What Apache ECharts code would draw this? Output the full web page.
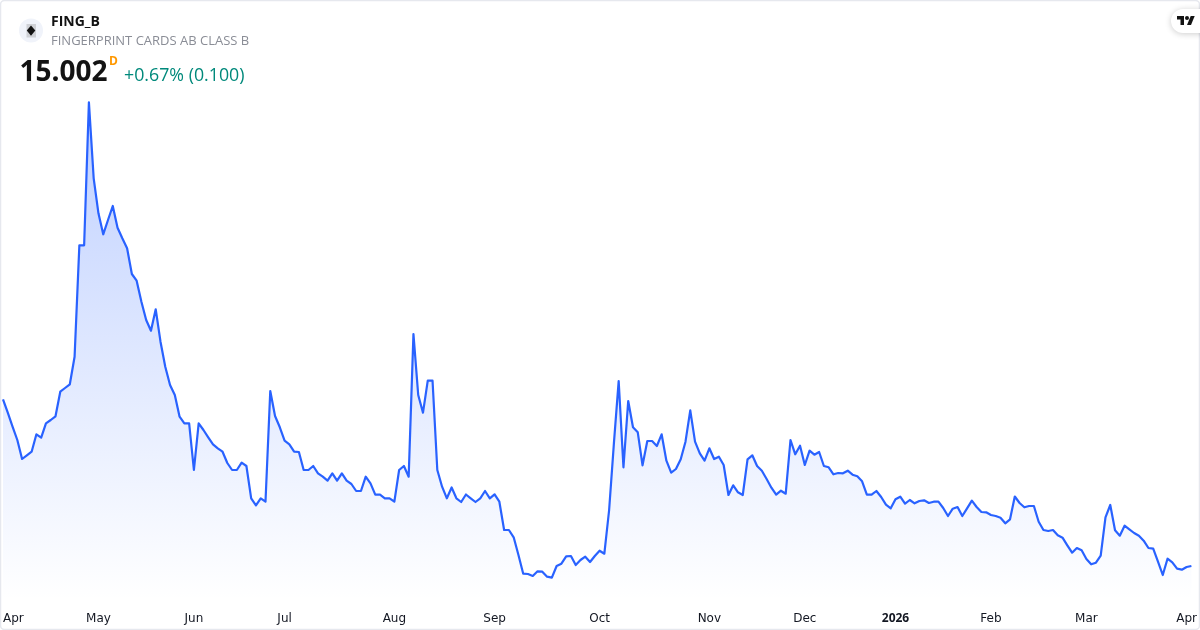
<!DOCTYPE html>
<html>
<head>
<meta charset="utf-8">
<style>html,body{margin:0;padding:0;background:#fff}#c{width:1200px;height:630px}</style>
<script src="https://cdn.jsdelivr.net/npm/echarts@6/dist/echarts.min.js"></script>
</head>
<body>
<div id="c"></div>
<script>
const closes = [
31.67,30.33,28.93,27.6,25.7,26.07,26.43,28.17,27.83,29.27,
29.6,29.97,32.43,32.8,33.17,35.93,47.07,47.07,61.37,53.77,
50.27,48.17,49.6,51.0,48.83,47.77,46.77,44.2,43.53,41.43,
39.6,38.53,40.67,37.43,34.93,33.1,32.1,29.93,29.27,29.27,
24.6,29.27,28.6,27.87,27.17,26.77,26.43,25.3,24.6,24.6,
25.33,25.0,21.77,21.07,21.77,21.43,32.5,30.0,28.87,27.53,
27.17,26.43,26.4,24.6,24.6,25.0,24.27,23.93,23.53,24.27,
23.53,24.27,23.53,23.2,22.5,22.5,23.93,23.27,22.13,22.13,
21.77,21.77,21.43,24.6,25.0,23.93,38.2,32.1,30.33,33.53,
33.53,24.6,22.93,21.77,22.85,21.77,21.4,22.15,21.77,21.4,
21.77,22.5,21.77,22.17,21.43,18.6,18.6,17.87,16.1,14.23,
14.2,14.0,14.47,14.43,13.93,13.83,15.0,15.23,15.97,16.0,
15.1,15.6,15.93,15.4,16.0,16.53,16.23,20.6,27.27,33.5,
24.87,31.5,28.87,28.37,25.07,27.5,27.5,27.0,28.17,25.53,
24.33,24.7,25.67,27.43,30.57,27.43,26.27,25.53,26.77,25.7,
25.93,25.1,22.1,23.07,22.37,22.1,25.67,26.07,25.0,24.53,
23.7,22.83,22.13,22.53,22.23,27.6,26.17,27.03,25.1,26.53,
26.13,26.4,25.0,24.87,24.17,24.3,24.27,24.53,24.13,23.97,
23.47,22.13,22.13,22.5,21.9,21.13,20.77,21.67,21.93,21.23,
21.6,21.27,21.5,21.57,21.3,21.43,21.43,20.8,20.0,20.73,
20.9,20.0,20.77,21.53,20.9,20.4,20.37,20.1,20.0,19.83,
19.27,19.67,21.95,21.3,20.87,21.0,21.0,19.43,18.6,18.5,
18.6,18.07,17.83,17.07,16.33,16.8,16.57,15.7,15.17,15.33,
16.03,19.87,21.1,18.57,18.03,19.03,18.67,18.3,18.03,17.53,
16.8,16.73,15.43,14.1,15.73,15.37,14.73,14.63,14.902,15.002
];
const tickIndexes = [0,20,40,59,82,103,125,148,168,187,207,227,248];
const tickLabels = ['Apr','May','Jun','Jul','Aug','Sep','Oct','Nov','Dec','2026','Feb','Mar','Apr'];
const boldTicks = ['2026'];
const tradingDays = closes.map((_, i) => i);

const UI = '"Open Sans","Noto Sans",sans-serif';
const chart = echarts.init(document.getElementById('c'), null, {renderer:'canvas'});
chart.setOption({
  animation:false,
  backgroundColor:'#ffffff',
  grid:{left:2.7, right:7, top:0, height:600, containLabel:false},
  xAxis:{
    type:'category', data:tradingDays, boundaryGap:false,
    axisLine:{show:false}, axisTick:{show:false}, splitLine:{show:false},
    axisLabel:{
      show:true, margin:13, hideOverlap:false, alignMinLabel:'left',
      color:'#131722', fontFamily:'"DejaVu Sans",sans-serif', fontSize:12,
      interval:(i)=>tickIndexes.includes(i),
      formatter:(v)=>{
        const t = tickLabels[tickIndexes.indexOf(Number(v))];
        return boldTicks.includes(t) ? '{b|'+t+'}' : t;
      },
      rich:{b:{fontWeight:'bold',color:'#131722',fontFamily:'"Open Sans",sans-serif',fontSize:12}}
    }
  },
  yAxis:{type:'value', min:11.6, max:71.6, show:false},
  series:[{
    type:'line', data:closes, showSymbol:false, symbol:'none', smooth:false,
    lineStyle:{color:'#2962ff', width:2.2, join:'round'},
    areaStyle:{origin:'start', opacity:1, color:{type:'linear', global:true, x:0,y:102,x2:0,y2:600,
      colorStops:[{offset:0,color:'rgba(41,98,255,0.3)'},{offset:1,color:'rgba(41,98,255,0)'}]}},
    silent:true
  }],
  graphic:[
    {type:'rect', silent:true, z:50, shape:{x:0.5,y:0.5,width:1199,height:629,r:4}, style:{fill:'none',stroke:'#e6e8ee',lineWidth:1.5}},
    {type:'circle', silent:true, z:51, shape:{cx:31,cy:30.5,r:12}, style:{fill:'#f0f3fa'}},
    {type:'rect', silent:true, z:52, shape:{x:26.5,y:24,width:9.5,height:13.5}, style:{fill:'#cfd1d6'}},
    {type:'polygon', silent:true, z:53, shape:{points:[[31,25.5],[35.3,30.5],[31,35.8],[26.8,30.5]]}, style:{fill:'#131313'}},
    {type:'text', silent:true, z:53, x:51, y:22, style:{text:'FING_B', fill:'#131313', font:'700 14px '+UI, textVerticalAlign:'middle'}},
    {type:'text', silent:true, z:53, x:51, y:41.5, style:{text:'FINGERPRINT CARDS AB CLASS B', fill:'#8a8d96', font:'400 13px '+UI, textVerticalAlign:'middle'}},
    {type:'text', silent:true, z:53, x:19.5, y:73, style:{text:'15.002', fill:'#131313', font:'700 28px '+UI, textVerticalAlign:'middle'}},
    {type:'text', silent:true, z:53, x:109, y:62, style:{text:'D', fill:'#ff9800', font:'700 12px '+UI, textVerticalAlign:'middle'}},
    {type:'text', silent:true, z:53, x:124, y:76, style:{text:'+0.67% (0.100)', fill:'#00897b', font:'400 17.8px '+UI, textVerticalAlign:'middle'}},
    {type:'rect', silent:true, z:53, shape:{x:1171,y:9,width:34,height:24,r:[12,0,0,12]}, style:{fill:'#ffffff',shadowBlur:6,shadowColor:'rgba(0,0,0,0.2)',shadowOffsetY:1}},
    {type:'polygon', silent:true, z:54, shape:{points:[[1177,16],[1184,16],[1184,25],[1180.5,25],[1180.5,19.5],[1177,19.5]]}, style:{fill:'#131313'}},
    {type:'circle', silent:true, z:54, shape:{cx:1187,cy:18,r:2}, style:{fill:'#131313'}},
    {type:'polygon', silent:true, z:54, shape:{points:[[1190.7,16],[1194.7,16],[1191,25],[1187,25]]}, style:{fill:'#131313'}}
  ]
});
</script>
</body>
</html>
